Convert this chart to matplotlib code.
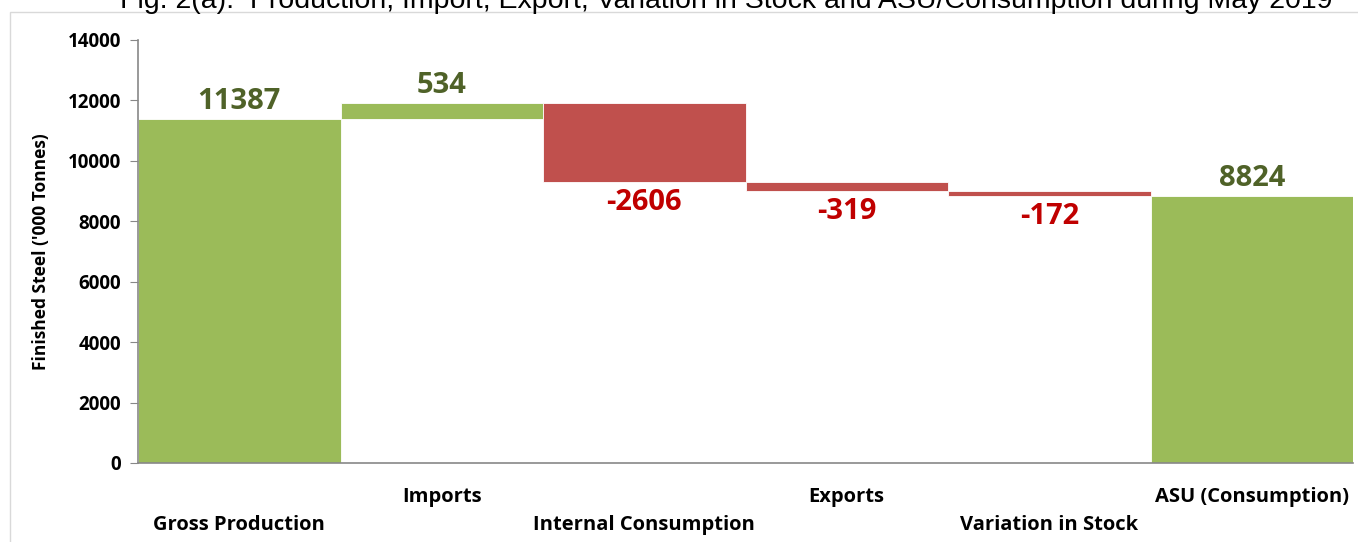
import numpy as np
import matplotlib.pyplot as plt
from matplotlib.patches import Rectangle

# data
categories = ["Gross Production", "Imports", "Internal Consumption",
              "Exports", "Variation in Stock", "ASU (Consumption)"]
values = [11387, 534, -2606, -319, -172, 8824]
is_total = [True, False, False, False, False, True]
yticks = [0, 2000, 4000, 6000, 8000, 10000, 12000, 14000]

title = ("Fig. 2(a):  Production, Import, Export, Variation in Stock "
         "and ASU/Consumption during May 2019")

GREEN = "#9BBB59"
RED = "#C0504D"
GREEN_TXT = "#4F6228"
RED_TXT = "#C00000"

plt.rcParams["font.family"] = ["Open Sans", "DejaVu Sans"]

fig = plt.figure(figsize=(13.58, 5.42), dpi=100)
ax = fig.add_axes([138 / 1358, 79 / 542, 1215 / 1358, 423 / 542])

# waterfall bottoms
bottoms = []
heights = []
running = 0
for v, tot in zip(values, is_total):
    if tot:
        bottoms.append(0)
        heights.append(v)
        running = v
    else:
        bottoms.append(running if v >= 0 else running + v)
        heights.append(abs(v))
        running += v

x = np.arange(len(categories))
colors = [GREEN if v >= 0 else RED for v in values]
ax.bar(x, heights, bottom=bottoms, width=1.0, color=colors,
       edgecolor="white", linewidth=0.6)

for xi, v, b, h in zip(x, values, bottoms, heights):
    if v >= 0:
        ax.text(xi, b + h + 100, str(v), ha="center", va="bottom",
                fontsize=21, fontweight="bold", color=GREEN_TXT)
    else:
        ax.text(xi, b - 200, str(v), ha="center", va="top",
                fontsize=21, fontweight="bold", color=RED_TXT)

ax.set_xlim(-0.5, len(categories) - 0.5)
ax.set_ylim(0, 14000)
ax.set_yticks(yticks)
ax.set_yticklabels([str(t) for t in yticks], fontsize=13.5, fontweight="bold")
ax.set_xticks([])
ax.tick_params(axis="y", length=6, color="#888888", pad=6)

# staggered category labels
for xi, c in zip(x, categories):
    ypos = -0.080 if xi % 2 == 1 else -0.147
    ax.text(xi, ypos, c, transform=ax.get_xaxis_transform(), ha="center",
            va="center", fontsize=14.5, fontweight="bold")

ax.set_ylabel("Finished Steel ('000 Tonnes)", fontsize=12.5, fontweight="bold",
              labelpad=13)

for s in ["top", "right"]:
    ax.spines[s].set_visible(False)
for s in ["left", "bottom"]:
    ax.spines[s].set_color("#888888")
    ax.spines[s].set_linewidth(1.2)

# light frame of the chart area
fig.add_artist(Rectangle((10 / 1358, -0.01), 1.1, 1 - 12 / 542 + 0.01,
                         transform=fig.transFigure, fill=False,
                         edgecolor="#D9D9D9", linewidth=1))

# title sits partly above the picture, as in the source
fig.text(0.535, 1 - 1 / 542, title, ha="center", va="center",
         fontsize=20.5, family=["Liberation Sans", "DejaVu Sans"])

fig.savefig("out.png", dpi=100)
